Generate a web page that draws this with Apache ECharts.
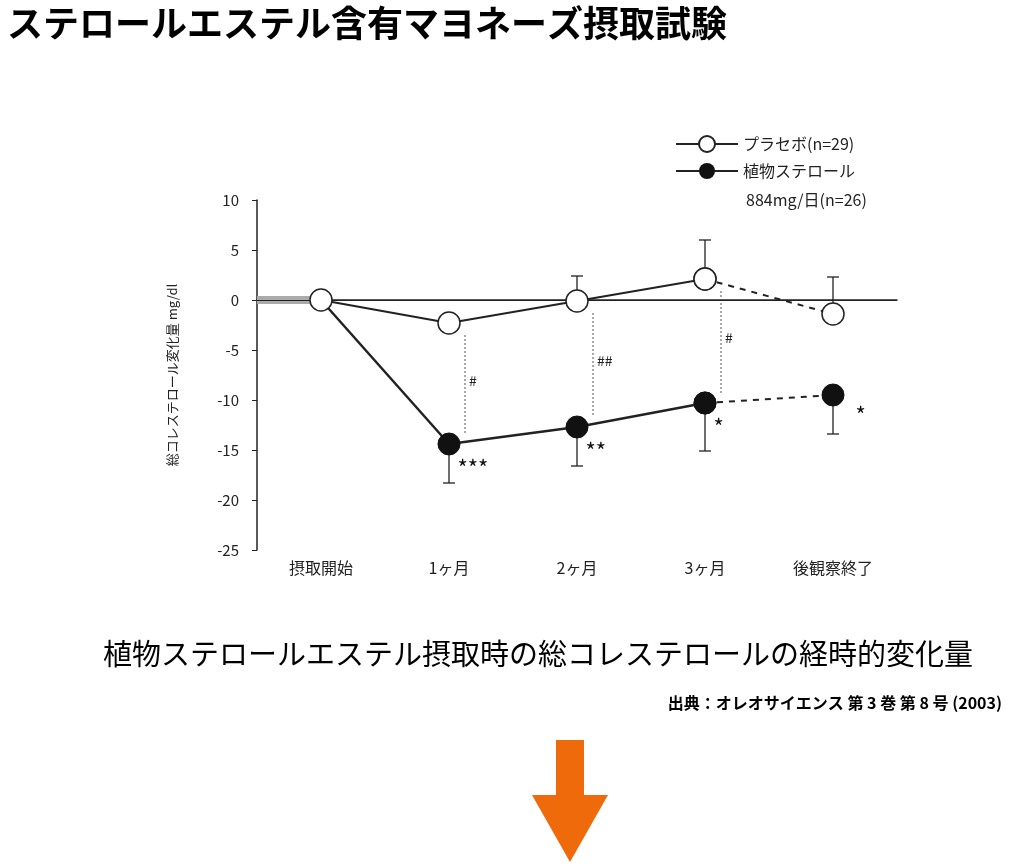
<!DOCTYPE html>
<html><head><meta charset="utf-8">
<script src="https://cdn.jsdelivr.net/npm/echarts@6/dist/echarts.min.js"></script>
<style>body{margin:0;background:#fff}#chart{width:1015px;height:866px}</style>
</head><body><div id="chart"></div>
<script>
// values
const categories = ['摂取開始', '1ヶ月', '2ヶ月', '3ヶ月', '後観察終了'];
const placebo = [0, -2.3, -0.1, 2.1, -1.4];
const placeboErrTop = [null, null, 2.4, 6.0, 2.3];
const sterol = [0, -14.4, -12.7, -10.3, -9.5];
const sterolErrBottom = [null, -18.3, -16.6, -15.1, -13.4];
const sterolStars = ['', '***', '**', '*', '*'];
const diffMarks = ['', '#', '##', '#', ''];
const yTicks = [-25, -20, -15, -10, -5, 0, 5, 10];

let chart = echarts.init(document.getElementById('chart'));
const ff = '"Noto Sans CJK JP", sans-serif';

function solid(arr) { return arr.map((v, i) => i <= 3 ? v : null); }
function dashed(arr) { return arr.map((v, i) => i >= 3 ? v : null); }

function errBar(params, api) {
    let i = api.value(0);
    let p0 = api.coord([i, api.value(1)]);
    let p1 = api.coord([i, api.value(2)]);
    let st = {stroke: '#222', lineWidth: 1.3};
    return {type: 'group', children: [
        {type: 'line', shape: {x1: p0[0], y1: p0[1], x2: p1[0], y2: p1[1]}, style: st},
        {type: 'line', shape: {x1: p1[0] - 6, y1: p1[1], x2: p1[0] + 6, y2: p1[1]}, style: st}
    ]};
}

function diffLine(params, api) {
    let i = api.value(0);
    let p0 = api.coord([i, api.value(1)]);
    let p1 = api.coord([i, api.value(2)]);
    let x = p0[0] + 16;
    return {type: 'group', children: [
        {type: 'line', shape: {x1: x, y1: p0[1] + 12, x2: x, y2: p1[1] - 10},
            style: {stroke: '#555', lineWidth: 1, lineDash: [2, 2]}},
        {type: 'text', x: x + 4, y: (p0[1] + p1[1]) / 2 - 10,
            style: {text: diffMarks[i], fill: '#222', font: '14px ' + ff}}
    ]};
}

let errPlacebo = [], errSterol = [], diffData = [];
for (let i = 0; i < categories.length; i++) {
    if (placeboErrTop[i] !== null) errPlacebo.push([i, placebo[i], placeboErrTop[i]]);
    if (sterolErrBottom[i] !== null) errSterol.push([i, sterol[i], sterolErrBottom[i]]);
    if (diffMarks[i]) diffData.push([i, placebo[i], sterol[i]]);
}

let option = {
    animation: false,
    title: [
        {text: 'ステロールエステル含有マヨネーズ摂取試験', left: 2, top: 0,
            textStyle: {fontFamily: ff, fontSize: 36, fontWeight: 'bold', color: '#000'}},
        {text: '植物ステロールエステル摂取時の総コレステロールの経時的変化量', left: 98, top: 634,
            textStyle: {fontFamily: ff, fontSize: 29, fontWeight: 'normal', color: '#000'}},
        {text: '出典：オレオサイエンス 第 3 巻 第 8 号 (2003)', right: 8, top: 690,
            textStyle: {fontFamily: ff, fontSize: 16, fontWeight: 'bold', color: '#000'}}
    ],
    legend: {
        orient: 'vertical', left: 670, top: 130, itemWidth: 62, itemHeight: 20, itemGap: 10,
        data: ['プラセボ(n=29)', '植物ステロール'],
        textStyle: {fontFamily: ff, fontSize: 16, color: '#222'}
    },
    graphic: [
        {type: 'text', left: 746, top: 192, style: {text: '884mg/日(n=26)', fill: '#222', font: '16px ' + ff}},
        {type: 'polygon', shape: {points: [[556, 740], [584, 740], [584, 795], [608, 795], [570, 862], [532, 795], [556, 795]]},
            style: {fill: '#ee6a0a'}},
        {type: 'rect', shape: {x: 257, y: 296, width: 64, height: 8}, style: {fill: '#aaa'}, z: 1}
    ],
    grid: {left: 257, top: 200, width: 640, height: 350},
    xAxis: {
        type: 'category', data: categories, boundaryGap: true,
        axisLine: {lineStyle: {color: '#222', width: 1.5}},
        axisTick: {inside: true, alignWithLabel: true, length: 6, lineStyle: {color: '#222'}},
        axisLabel: {fontFamily: ff, fontSize: 16, color: '#222', margin: 10}
    },
    yAxis: {
        type: 'value', min: yTicks[0], max: yTicks[yTicks.length - 1], interval: 5,
        name: '総コレステロール変化量 mg/dl', nameLocation: 'middle', nameGap: 78,
        nameTextStyle: {fontFamily: ff, fontSize: 13, color: '#222'},
        axisLine: {show: true, lineStyle: {color: '#222', width: 1.5}},
        axisTick: {show: true, length: 5, lineStyle: {color: '#222'}},
        splitLine: {show: false},
        axisLabel: {fontFamily: ff, fontSize: 15, color: '#222', margin: 18}
    },
    series: [
        {type: 'line', data: [], markLine: {silent: true, symbol: 'none', label: {show: false},
            lineStyle: {color: '#222', width: 1, type: 'solid'}, data: [{yAxis: 0}]}},
        {type: 'custom', renderItem: diffLine, data: diffData, z: 1, silent: true},
        {type: 'custom', renderItem: errBar, data: errPlacebo, z: 2},
        {type: 'custom', renderItem: errBar, data: errSterol, z: 2},
        {name: 'プラセボ(n=29)', type: 'line', data: solid(placebo), symbol: 'circle', symbolSize: 22,
            itemStyle: {color: '#fff', borderColor: '#222', borderWidth: 1.5},
            lineStyle: {color: '#222', width: 2}, z: 6},
        {type: 'line', data: dashed(placebo), symbol: 'circle', symbolSize: 22,
            itemStyle: {color: '#fff', borderColor: '#222', borderWidth: 1.5},
            lineStyle: {color: '#222', width: 2, type: [6, 6]}, z: 4},
        {name: '植物ステロール', type: 'line', data: solid(sterol), symbol: 'circle',
            symbolSize: (v, p) => p.dataIndex === 0 ? 0 : 22,
            itemStyle: {color: '#111', borderColor: '#111'},
            lineStyle: {color: '#222', width: 2.5}, z: 5,
            label: {show: true, position: [20, 24], fontFamily: ff, fontSize: 22, color: '#111',
                formatter: p => sterolStars[p.dataIndex]}},
        {type: 'line', data: dashed(sterol), symbol: 'circle', symbolSize: 22,
            itemStyle: {color: '#111', borderColor: '#111'},
            lineStyle: {color: '#222', width: 2, type: [6, 6]}, z: 4,
            label: {show: true, position: [34, 20], fontFamily: ff, fontSize: 22, color: '#111',
                formatter: p => p.dataIndex === 4 ? sterolStars[4] : ''}}
    ]
};
chart.setOption(option);
</script></body></html>
